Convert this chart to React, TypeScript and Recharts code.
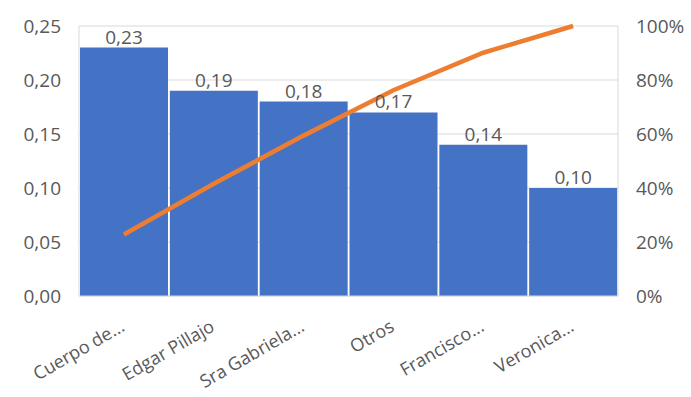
import React from "react";
import {
  ComposedChart,
  Bar,
  Line,
  XAxis,
  YAxis,
  CartesianGrid,
  LabelList,
} from "recharts";

// Pareto data: share per source and cumulative percentage
const categories = [
  "Cuerpo de...",
  "Edgar Pillajo",
  "Sra Gabriela...",
  "Otros",
  "Francisco...",
  "Veronica...",
];
const shares = [0.23, 0.19, 0.18, 0.17, 0.14, 0.1];
const cumulative = [0.228, 0.416, 0.594, 0.762, 0.901, 1.0];
const leftTicks = [0, 0.05, 0.1, 0.15, 0.2, 0.25];
const rightTicks = [0, 0.2, 0.4, 0.6, 0.8, 1.0];

const data = categories.map((name, i) => ({
  name,
  share: shares[i],
  cum: cumulative[i],
}));

const FONT = '"Open Sans", sans-serif';
const TEXT = "#595959";
const GRID = "#D9D9D9";

const fmtComma = (v: number) => v.toFixed(2).replace(".", ",");
const fmtPct = (v: number) => `${Math.round(v * 100)}%`;

const CategoryTick = (props: any) => {
  const { x, y, payload } = props;
  const tx = x + 2;
  const ty = y + 34;
  return (
    <text
      x={tx}
      y={ty}
      transform={`rotate(-30, ${tx}, ${ty})`}
      textAnchor="end"
      fill={TEXT}
      fontSize={18}
      fontFamily={FONT}
    >
      {payload.value}
    </text>
  );
};

export default function App() {
  return (
    <div style={{ position: "absolute", left: 0, top: 0, background: "#fff" }}>
      <ComposedChart
        width={691}
        height={397}
        data={data}
        margin={{ top: 26, right: 0, bottom: 0, left: 0 }}
        barCategoryGap={1}
      >
        <CartesianGrid vertical={false} stroke={GRID} yAxisId="val" />
        <XAxis
          dataKey="name"
          height={101}
          interval={0}
          tickSize={0}
          tickMargin={0}
          axisLine={{ stroke: GRID }}
          tickLine={false}
          tick={<CategoryTick />}
        />
        <YAxis
          yAxisId="val"
          orientation="left"
          width={79}
          domain={[0, 0.25]}
          ticks={leftTicks}
          tickFormatter={fmtComma}
          tickSize={0}
          tickMargin={18}
          axisLine={{ stroke: GRID }}
          tickLine={false}
          tick={{ fill: TEXT, fontSize: 19, fontFamily: FONT }}
        />
        <YAxis
          yAxisId="pct"
          orientation="right"
          width={73}
          domain={[0, 1]}
          ticks={rightTicks}
          tickFormatter={fmtPct}
          tickSize={0}
          tickMargin={18}
          axisLine={{ stroke: GRID }}
          tickLine={false}
          tick={{ fill: TEXT, fontSize: 19, fontFamily: FONT }}
        />
        <Bar
          yAxisId="val"
          dataKey="share"
          fill="#4472C4"
          isAnimationActive={false}
        >
          <LabelList
            dataKey="share"
            position="top"
            offset={4}
            formatter={(v: any) => fmtComma(Number(v))}
            style={{ fill: TEXT, fontSize: 19, fontFamily: FONT }}
          />
        </Bar>
        <Line
          yAxisId="pct"
          dataKey="cum"
          type="linear"
          stroke="#ED7D31"
          strokeWidth={4.5}
          dot={false}
          activeDot={false}
          isAnimationActive={false}
        />
      </ComposedChart>
    </div>
  );
}
